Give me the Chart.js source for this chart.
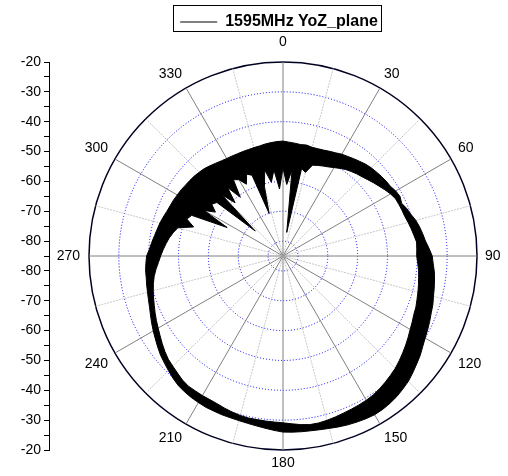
<!DOCTYPE html>
<html>
<head>
<meta charset="utf-8">
<script src="https://cdn.jsdelivr.net/npm/chart.js@4.4.0/dist/chart.umd.min.js"></script>
<style>
  body { margin: 0; background: #fff; }
  #wrap { position: relative; width: 508px; height: 476px; }
  #wrap canvas { position: absolute; left: 0; top: 0; }
</style>
</head>
<body>
<div id="wrap">
  <canvas id="polar" width="508" height="476"></canvas>
  <canvas id="axis" width="508" height="476"></canvas>
</div>
<script>
// angles go clockwise from the top, one sample every 3 degrees
var angles = [];
for (var a = 0; a < 360; a += 3) angles.push(String(a));

// outer edge of the measured trace (dB), 0..357 deg
var outerDb = [
  -46.5,-46.8,-47.0,-47.2,-47.0,-47.3,-47.2,-47.0,-46.6,-46.2,
  -45.6,-45.2,-44.7,-44.2,-43.6,-43.2,-42.9,-42.6,-42.3,-42.1,
  -41.4,-41.0,-41.5,-40.6,-39.9,-38.9,-38.2,-37.6,-37.0,-36.0,
  -35.0,-34.6,-34.0,-33.6,-33.2,-32.8,-32.2,-31.8,-31.2,-30.6,
  -30.0,-29.2,-28.2,-27.4,-26.5,-25.6,-25.0,-24.4,-24.0,-23.7,
  -23.6,-23.8,-24.1,-24.4,-24.8,-25.2,-25.5,-25.7,-25.8,-25.9,
  -26.0,-26.5,-27.0,-27.4,-27.7,-27.9,-28.0,-28.0,-28.1,-28.1,
  -28.3,-28.5,-28.8,-29.2,-29.9,-30.7,-31.5,-32.2,-33.1,-34.0,
  -34.8,-35.6,-36.4,-37.1,-37.6,-38.0,-38.3,-38.6,-38.7,-39.0,
  -39.3,-40.2,-40.8,-41.4,-41.9,-42.3,-42.8,-43.3,-43.6,-43.8,
  -44.1,-44.3,-44.6,-44.8,-45.0,-45.3,-45.6,-46.1,-46.6,-47.0,
  -47.3,-47.4,-47.5,-47.5,-47.5,-47.4,-47.3,-47.0,-46.8,-46.6
];

// inner edge of the trace (dB), with the deep nulls in the upper half
var innerDb = [
  -55.5,-61.0,-56.0,-77.0,-55.0,-56.0,-53.0,-52.5,-52.0,-51.5,
  -50.8,-50.0,-49.2,-48.6,-48.0,-47.5,-46.8,-46.0,-45.2,-44.3,
  -43.4,-42.7,-42.5,-42.3,-42.1,-41.6,-41.1,-40.6,-40.0,-40.1,
  -40.2,-39.8,-39.3,-39.0,-38.6,-38.2,-37.8,-37.3,-37.0,-36.4,
  -35.8,-35.0,-34.2,-33.4,-32.6,-31.8,-31.2,-30.6,-30.0,-29.5,
  -29.2,-29.0,-28.8,-28.6,-28.3,-28.0,-27.8,-27.8,-28.2,-28.7,
  -29.1,-29.3,-29.4,-29.5,-29.5,-29.7,-30.0,-30.4,-30.8,-31.0,
  -31.0,-31.1,-31.1,-31.5,-32.2,-32.8,-33.3,-34.1,-35.0,-35.9,
  -36.7,-37.4,-38.1,-38.8,-39.4,-40.0,-40.6,-41.3,-42.2,-43.2,
  -44.0,-44.8,-45.6,-46.4,-47.4,-48.5,-53.5,-50.5,-51.5,-64.0,
  -54.5,-58.0,-55.5,-56.5,-72.5,-56.0,-61.0,-55.5,-60.7,-54.5,
  -55.5,-58.0,-55.0,-56.0,-70.0,-61.0,-55.5,-60.0,-56.0,-62.5
];

var seriesName = '1595MHz YoZ_plane';
var rMin = -85, rMax = -20;

// frame around the legend entry
var legendFrame = {
  id: 'legendFrame',
  afterDraw: function(chart) {
    var hb = chart.legend && chart.legend.legendHitBoxes[0];
    if (!hb) return;
    var ctx = chart.ctx;
    ctx.save();
    ctx.strokeStyle = '#000';
    ctx.lineWidth = 1;
    ctx.strokeRect(Math.round(hb.left) - 6.5, Math.round(hb.top) - 8.5, Math.round(hb.width) + 10, Math.round(hb.height) + 10);
    ctx.restore();
  }
};

var polar = new Chart(document.getElementById('polar'), {
  type: 'radar',
  data: {
    labels: angles,
    datasets: [
      { label: seriesName, data: outerDb, borderColor: '#000', borderWidth: 1, pointRadius: 0, fill: false },
      { label: 'inner', data: innerDb, borderColor: '#000', borderWidth: 1, pointRadius: 0,
        backgroundColor: '#000', fill: '-1' }
    ]
  },
  options: {
    responsive: false,
    animation: false,
    layout: { padding: { left: 50, right: 0, top: 10, bottom: 4 } },
    plugins: {
      tooltip: { enabled: false },
      legend: {
        position: 'top',
        labels: {
          filter: function(item) { return item.datasetIndex === 0; },
          usePointStyle: true,
          pointStyle: 'line',
          pointStyleWidth: 37,
          padding: 4,
          color: '#000',
          font: { family: 'Arial', size: 16, weight: 'bold' }
        }
      }
    },
    elements: { line: { tension: 0 } },
    scales: {
      r: {
        min: rMin,
        max: rMax,
        ticks: { display: false, stepSize: 10 },
        grid: {
          circular: true,
          color: function(ctx) { return ctx.tick.value === rMax ? '#000022' : '#0000ff'; },
          lineWidth: function(ctx) { return ctx.tick.value === rMax ? 1.5 : 1; }
        },
        border: {
          dash: function(ctx) { return ctx.tick.value === rMax ? [] : [1, 2]; }
        },
        angleLines: {
          color: function(ctx) { return ctx.index % 10 === 0 ? '#808080' : '#c8c8c8'; },
          lineWidth: function(ctx) { return ctx.index % 5 === 0 ? 1 : 0; },
          borderDash: function(ctx) { return ctx.index % 10 === 0 ? [] : [2, 1]; }
        },
        pointLabels: {
          callback: function(label, i) { return i % 10 === 0 ? label : ''; },
          color: '#000',
          font: function(ctx) {
            var i = ctx.index;
            var lh = '14px';
            if (i % 10 !== 0) lh = '1px';
            else if (i === 0) lh = '4px';
            else if (i === 60) lh = '18px';
            return { family: 'Arial', size: 14, lineHeight: lh };
          },
          padding: function(ctx) {
            var i = ctx.index;
            if (i % 10 !== 0) return 0;
            if (i === 0) return 18;
            if (i === 60) return 4;
            if (i === 90) return 9;
            return 8;
          }
        }
      }
    }
  },
  plugins: [legendFrame]
});

// left radial axis: -20 at the top, -85 at the centre, -20 again at the bottom
var axisChart = new Chart(document.getElementById('axis'), {
  type: 'scatter',
  data: { datasets: [] },
  options: {
    responsive: false,
    animation: false,
    events: [],
    layout: { padding: { left: 0, right: 0, top: 62, bottom: 26 } },
    plugins: { legend: { display: false }, tooltip: { enabled: false } },
    scales: {
      x: { display: false, min: 0, max: 1 },
      y: {
        min: 0,
        max: (rMax - rMin) * 2,
        afterFit: function(scale) { scale.width = 49; },
        ticks: {
          stepSize: 5,
          autoSkip: false,
          padding: 3,
          color: '#000',
          font: { family: 'Arial', size: 14 },
          callback: function(v) {
            if (v % 10 !== 0) return '';
            return String(rMin + Math.abs(v - (rMax - rMin)));
          }
        },
        grid: { drawOnChartArea: false, tickLength: 5, color: '#000' },
        border: { color: '#000', width: 1 }
      }
    }
  }
});
</script>
</body>
</html>
